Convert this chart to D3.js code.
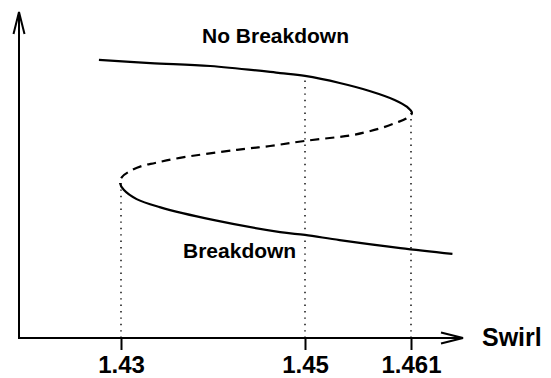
<!DOCTYPE html>
<html>
<head>
<meta charset="utf-8">
<script src="https://cdn.jsdelivr.net/npm/d3@7"></script>
<style>
  html, body { margin: 0; padding: 0; background: #fff; }
  svg { display: block; }
  text { font-family: "Liberation Sans", Arial, Helvetica, sans-serif; font-weight: bold; fill: #000; }
</style>
</head>
<body>
<svg id="chart" width="551" height="378"></svg>
<script>
// ---- data (swirl vs. arbitrary flow state) ----
const tickValues = [1.43, 1.45, 1.461];
const tickLabels = ["1.43", "1.45", "1.461"];
const xAxisLabel = "Swirl";
const upperLabel = "No Breakdown";
const lowerLabel = "Breakdown";

// upper stable branch (solid), ending at the right fold
const upperSwirl = [1.4276, 1.4332, 1.4397, 1.4473, 1.4500, 1.4536, 1.4567, 1.4593, 1.4606, 1.4611];
const upperState = [8.69, 8.59, 8.50, 8.28, 8.19, 7.97, 7.72, 7.44, 7.22, 7.03];
// unstable middle branch (dashed), from right fold to left fold (folds excluded)
const middleSwirl = [1.4605, 1.4594, 1.4579, 1.4564, 1.4549, 1.4500, 1.4462, 1.4426, 1.4364, 1.4337, 1.4323, 1.4310, 1.4301];
const middleState = [6.86, 6.72, 6.56, 6.44, 6.34, 6.16, 6.00, 5.88, 5.63, 5.47, 5.38, 5.22, 5.03];
// lower stable branch (solid), starting at the left fold
const lowerSwirl = [1.4299, 1.4303, 1.4317, 1.4342, 1.4400, 1.4473, 1.4500, 1.4536, 1.4599, 1.4653];
const lowerState = [4.84, 4.63, 4.34, 4.09, 3.69, 3.31, 3.22, 3.06, 2.81, 2.63];

// dotted drop lines: swirl value and state at which they meet the curve
const dropSwirl = [1.43, 1.45, 1.461];
const dropState = [4.84, 8.19, 7.03];
const foldStates = [7.03, 4.84]; // right fold, left fold

// ---- layout ----
const W = 551, H = 378;
const originX = 19, originY = 338;
const x = d3.scaleLinear().domain([1.43, 1.45, 1.461]).range([121, 305, 411]);
const y = d3.scaleLinear().domain([0, 10]).range([originY, 18]);

const svg = d3.select("#chart");

// full curve, ordered along the state variable
const pts = [];
upperSwirl.forEach((s, i) => pts.push([s, upperState[i]]));
middleSwirl.forEach((s, i) => pts.push([s, middleState[i]]));
lowerSwirl.forEach((s, i) => pts.push([s, lowerState[i]]));

const line = d3.line()
  .x(d => x(d[0]))
  .y(d => y(d[1]))
  .curve(d3.curveCatmullRom.alpha(0.5));

const defs = svg.append("defs");
const yTopFold = y(foldStates[0]), yBotFold = y(foldStates[1]);
defs.append("clipPath").attr("id", "solidClip")
  .call(c => {
    c.append("rect").attr("x", 0).attr("y", 0).attr("width", W).attr("height", yTopFold);
    c.append("rect").attr("x", 0).attr("y", yBotFold).attr("width", W).attr("height", H - yBotFold);
  });
defs.append("clipPath").attr("id", "dashClip")
  .append("rect").attr("x", 0).attr("y", yTopFold).attr("width", W).attr("height", yBotFold - yTopFold);

// dotted drop lines
svg.append("g").selectAll("line").data(dropSwirl).join("line")
  .attr("x1", d => x(d)).attr("x2", d => x(d))
  .attr("y1", originY).attr("y2", (d, i) => y(dropState[i]))
  .attr("stroke", "#000").attr("stroke-width", 1.4)
  .attr("stroke-dasharray", "1.4,5");

// curve
svg.append("path").datum(pts).attr("d", line)
  .attr("fill", "none").attr("stroke", "#000").attr("stroke-width", 2.2)
  .attr("clip-path", "url(#solidClip)");
svg.append("path").datum(pts).attr("d", line)
  .attr("fill", "none").attr("stroke", "#000").attr("stroke-width", 2.2)
  .attr("stroke-dasharray", "9,6")
  .attr("clip-path", "url(#dashClip)");

// axes
const xAxis = d3.axisBottom(x).tickValues(tickValues)
  .tickFormat((d, i) => tickLabels[i]).tickSize(12).tickPadding(6);
const gx = svg.append("g").attr("transform", `translate(0,${originY})`).call(xAxis);
gx.select(".domain").remove();
gx.selectAll(".tick line").attr("stroke", "#000").attr("stroke-width", 2);
gx.selectAll(".tick text").attr("font-size", 24).attr("font-family", null).attr("fill", "#000");

const axisG = svg.append("g").attr("fill", "none").attr("stroke", "#000").attr("stroke-width", 2);
const xEnd = 463, yEnd = 12;
axisG.append("path").attr("d", `M${originX},${originY}H${xEnd}`);
axisG.append("path").attr("d", `M${originX},${originY + 1}V${yEnd}`);
// arrow heads
axisG.append("path").attr("stroke-linejoin", "miter")
  .attr("d", `M${xEnd - 22},${originY - 5.5}L${xEnd},${originY}L${xEnd - 22},${originY + 5.5}`);
axisG.append("path").attr("stroke-linejoin", "miter")
  .attr("d", `M${originX - 5.5},${yEnd + 22}L${originX},${yEnd}L${originX + 5.5},${yEnd + 22}`);

// labels
svg.append("text").attr("x", 482).attr("y", 346).attr("font-size", 25).text(xAxisLabel);
svg.append("text").attr("x", 202).attr("y", 43).attr("font-size", 21).text(upperLabel);
svg.append("text").attr("x", 183).attr("y", 258).attr("font-size", 21).text(lowerLabel);
</script>
</body>
</html>
